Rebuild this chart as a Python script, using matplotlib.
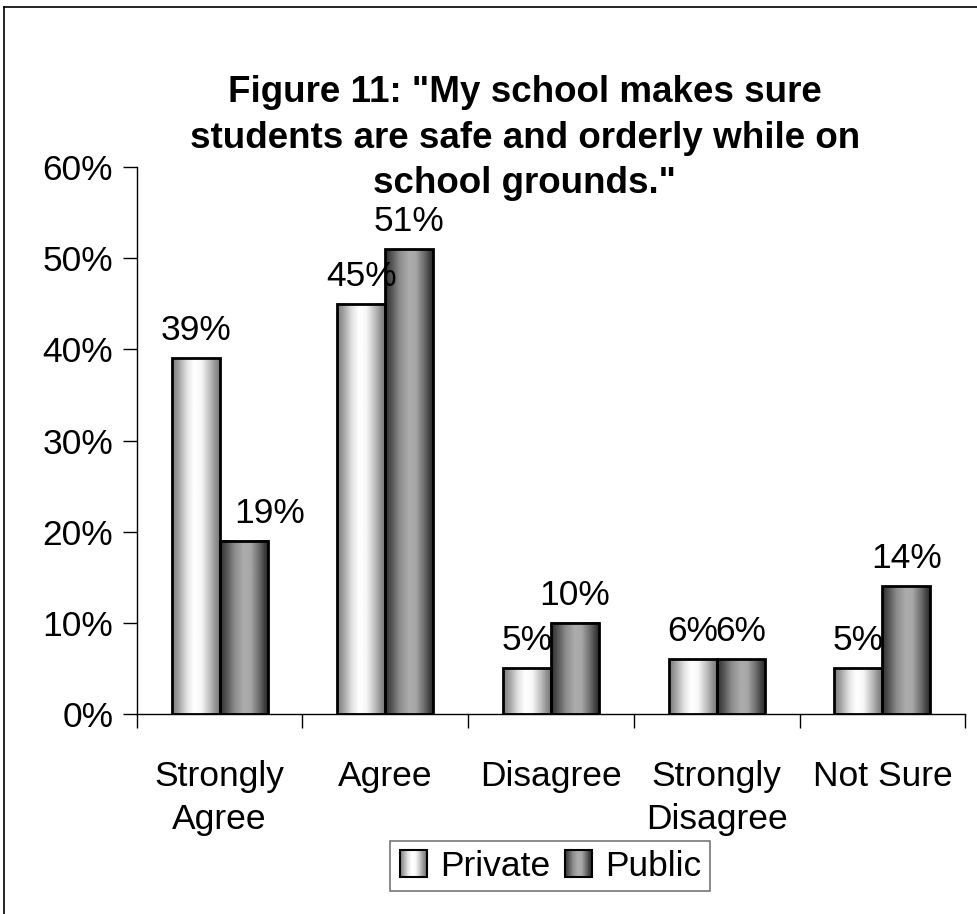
import numpy as np
import matplotlib
matplotlib.use("Agg")
import matplotlib.pyplot as plt
from matplotlib.patches import Rectangle
from matplotlib.legend_handler import HandlerBase
from matplotlib.lines import Line2D

plt.rcParams['font.family'] = ['Liberation Sans', 'DejaVu Sans']

categories = ["Strongly\nAgree", "Agree", "Disagree", "Strongly\nDisagree", "Not Sure"]
series_names = ["Private", "Public"]
private_vals = [39, 45, 5, 6, 5]
public_vals = [19, 51, 10, 6, 14]
y_ticks = [0, 10, 20, 30, 40, 50, 60]
title = 'Figure 11: "My school makes sure\nstudents are safe and orderly while on\nschool grounds."'

# hand-nudged value labels: (series, category index) -> horizontal shift in points
label_nudge = {("Public", 0): 19}


# cylinder-like shading profiles across the bar width (0 = left edge, 1 = right edge)
def profile(kind, n=64):
    t = np.linspace(0, 1, n)
    if kind == "light":
        pts = [(0, 0.48), (0.12, 0.62), (0.30, 0.88), (0.45, 1.0), (0.60, 0.97),
               (0.78, 0.74), (0.92, 0.54), (1, 0.46)]
    else:
        pts = [(0, 0.18), (0.12, 0.32), (0.30, 0.55), (0.48, 0.67), (0.62, 0.66),
               (0.78, 0.46), (0.92, 0.25), (1, 0.15)]
    xs, ys = zip(*pts)
    return np.interp(t, xs, ys)


profiles = {"Private": profile("light"), "Public": profile("dark")}

fig = plt.figure(figsize=(9.77, 9.14), dpi=100)
ax = fig.add_axes([0.140, 0.2188, 0.848, 0.5985])

x = np.arange(len(categories))
width = 0.29
offsets = [-width / 2, width / 2]

for name, vals, off in zip(series_names, [private_vals, public_vals], offsets):
    bars = ax.bar(x + off, vals, width, facecolor="none", edgecolor="black",
                  linewidth=2, zorder=3)
    prof = profiles[name]
    for i, (b, v) in enumerate(zip(bars, vals)):
        x0, y0 = b.get_x(), b.get_y()
        ax.imshow(prof[np.newaxis, :], cmap="gray", vmin=0, vmax=1,
                  extent=(x0, x0 + b.get_width(), y0, y0 + b.get_height()),
                  aspect="auto", interpolation="bilinear", zorder=2)
        ax.annotate(f"{v}%", (b.get_x() + b.get_width() / 2, v),
                    xytext=(label_nudge.get((name, i), 0), 13),
                    textcoords="offset points",
                    ha="center", va="baseline", fontsize=25.5, zorder=4)

ax.set_xlim(-0.5, len(categories) - 0.5)
ax.set_ylim(0, 60)
ax.set_yticks(y_ticks)
ax.set_yticklabels([f"{t}%" for t in y_ticks], fontsize=25.5)
ax.tick_params(axis="y", length=10, width=1, direction="out", pad=7)

# category labels centred under groups, tick marks on group boundaries
ax.set_xticks(np.arange(len(categories) + 1) - 0.5)
ax.set_xticklabels([])
ax.tick_params(axis="x", length=10, width=1, direction="out")
ax.set_xticks(x, minor=True)
ax.set_xticklabels(categories, minor=True, fontsize=25.5, linespacing=1.4)
ax.tick_params(axis="x", which="minor", length=0, pad=33)

for s in ["top", "right"]:
    ax.spines[s].set_visible(False)
ax.spines["left"].set_linewidth(1)
ax.spines["bottom"].set_linewidth(1)

fig.text(0.537, 0.849, title, ha="center", va="center", fontsize=26.5,
         fontweight="bold", linespacing=1.4)


class GradientHandler(HandlerBase):
    def __init__(self, prof):
        super().__init__()
        self.prof = prof

    def create_artists(self, legend, orig_handle, xdescent, ydescent,
                       width, height, fontsize, trans):
        n = len(self.prof)
        artists = []
        side = height
        x0 = -xdescent + (width - side) / 2
        y0 = -ydescent
        step = side / n
        for i, g in enumerate(self.prof):
            artists.append(Rectangle((x0 + i * step, y0), step * 1.05, side,
                                     facecolor=(g, g, g), edgecolor="none",
                                     transform=trans))
        artists.append(Rectangle((x0, y0), side, side, facecolor="none",
                                 edgecolor="black", linewidth=1.5, transform=trans))
        return artists


handles = [Rectangle((0, 0), 1, 1), Rectangle((0, 1), 1, 1)]
leg = fig.legend(handles, series_names, loc="center", bbox_to_anchor=(0.563, 0.0525),
                 ncol=2, fontsize=25.5, frameon=True, fancybox=False, edgecolor="#555555",
                 handlelength=0.8, handleheight=0.8, handletextpad=0.35,
                 columnspacing=0.4, borderpad=0.25,
                 handler_map={handles[0]: GradientHandler(profiles["Private"]),
                              handles[1]: GradientHandler(profiles["Public"])})
leg.get_frame().set_linewidth(1.2)

# outer chart-area border (top and left edges)
fig.add_artist(Line2D([0.004, 1.0], [0.992, 0.992], color="black", linewidth=1.2,
                      transform=fig.transFigure))
fig.add_artist(Line2D([0.004, 0.004], [0.0, 0.992], color="black", linewidth=1.2,
                      transform=fig.transFigure))

fig.savefig("out.png", dpi=100, facecolor="white")
